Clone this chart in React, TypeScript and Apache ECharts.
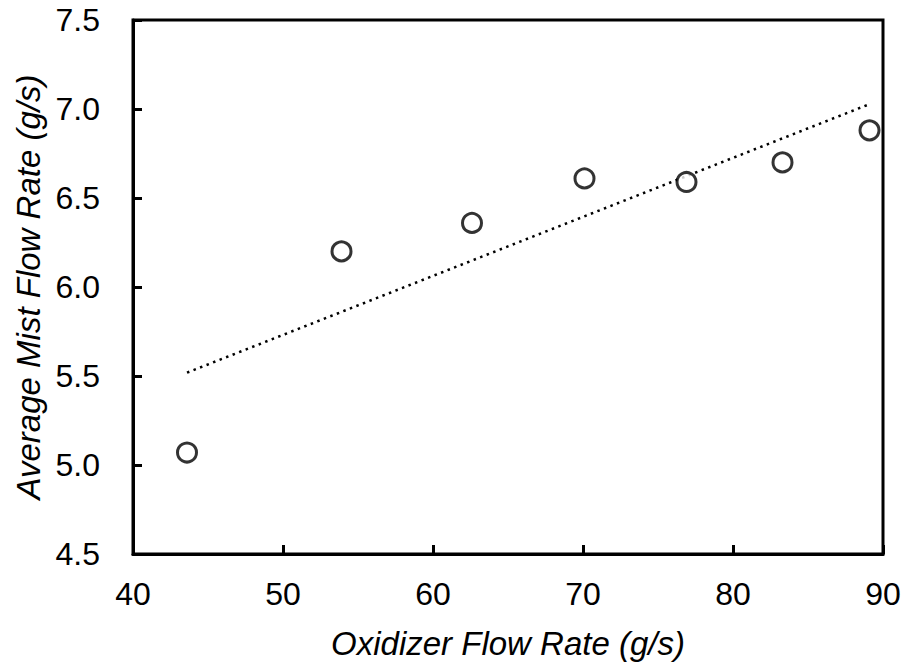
import React, { useEffect, useRef } from "react";
import * as echarts from "echarts";

// Measured oxidizer flow rate (g/s) and average mist flow rate (g/s)
const oxidizerFlow = [43.6, 53.9, 62.6, 70.1, 76.9, 83.3, 89.1];
const mistFlow = [5.07, 6.2, 6.36, 6.61, 6.59, 6.7, 6.88];

const xTicks = { min: 40, max: 90, interval: 10 };
const yTicks = { min: 4.5, max: 7.5, interval: 0.5 };

const xTitle = "Oxidizer Flow Rate (g/s)";
const yTitle = "Average Mist Flow Rate (g/s)";

// Least-squares linear trendline through the measured points
function linearFit(xs: number[], ys: number[]) {
  const n = xs.length;
  const mx = xs.reduce((a, b) => a + b, 0) / n;
  const my = ys.reduce((a, b) => a + b, 0) / n;
  let sxy = 0;
  let sxx = 0;
  for (let i = 0; i < n; i++) {
    sxy += (xs[i] - mx) * (ys[i] - my);
    sxx += (xs[i] - mx) * (xs[i] - mx);
  }
  const slope = sxy / sxx;
  return { slope, intercept: my - slope * mx };
}

export default function App() {
  const ref = useRef<HTMLDivElement>(null);

  useEffect(() => {
    if (!ref.current) return;
    const chart = echarts.init(ref.current, null, { renderer: "svg" });
    const fit = linearFit(oxidizerFlow, mistFlow);
    const x0 = Math.min(...oxidizerFlow);
    const x1 = Math.max(...oxidizerFlow);
    const trend = [
      [x0, fit.intercept + fit.slope * x0],
      [x1, fit.intercept + fit.slope * x1],
    ];
    const font = "'Liberation Sans', Arial, sans-serif";

    chart.setOption({
      animation: false,
      backgroundColor: "#ffffff",
      grid: {
        left: 133,
        right: 23,
        top: 20,
        bottom: 113,
        show: true,
        borderColor: "#000",
        borderWidth: 3,
        backgroundColor: "transparent",
      },
      xAxis: {
        type: "value",
        min: xTicks.min,
        max: xTicks.max,
        interval: xTicks.interval,
        name: xTitle,
        nameLocation: "middle",
        nameGap: 73,
        nameTextStyle: {
          fontFamily: font,
          fontSize: 33,
          fontStyle: "italic",
          color: "#000",
        },
        axisLine: { show: true, lineStyle: { color: "#000", width: 3 } },
        axisTick: { show: true, inside: true, length: 9, lineStyle: { color: "#000", width: 3 } },
        axisLabel: {
          margin: 24,
          fontFamily: font,
          fontSize: 32,
          color: "#000",
        },
        splitLine: { show: false },
      },
      yAxis: {
        type: "value",
        min: yTicks.min,
        max: yTicks.max,
        interval: yTicks.interval,
        name: yTitle,
        nameLocation: "middle",
        nameGap: 88,
        nameTextStyle: {
          fontFamily: font,
          fontSize: 33,
          fontStyle: "italic",
          color: "#000",
        },
        axisLine: { show: true, lineStyle: { color: "#000", width: 3 } },
        axisTick: { show: true, inside: true, length: 9, lineStyle: { color: "#000", width: 3 } },
        axisLabel: {
          margin: 33,
          fontFamily: font,
          fontSize: 32,
          color: "#000",
          formatter: (v: number) => v.toFixed(1),
        },
        splitLine: { show: false },
      },
      series: [
        {
          type: "line",
          data: trend,
          showSymbol: false,
          symbol: "none",
          lineStyle: { color: "#000", width: 2.5, type: [2.5, 4.5] },
          z: 1,
        },
        {
          type: "scatter",
          data: oxidizerFlow.map((x, i) => [x, mistFlow[i]]),
          symbol: "circle",
          symbolSize: 19,
          itemStyle: { color: "#fff", borderColor: "#000", borderWidth: 3 },
          z: 2,
        },
      ],
    });
    return () => chart.dispose();
  }, []);

  return (
    <div
      ref={ref}
      style={{ position: "fixed", left: 0, top: 0, width: 906, height: 667, background: "#fff" }}
    />
  );
}
